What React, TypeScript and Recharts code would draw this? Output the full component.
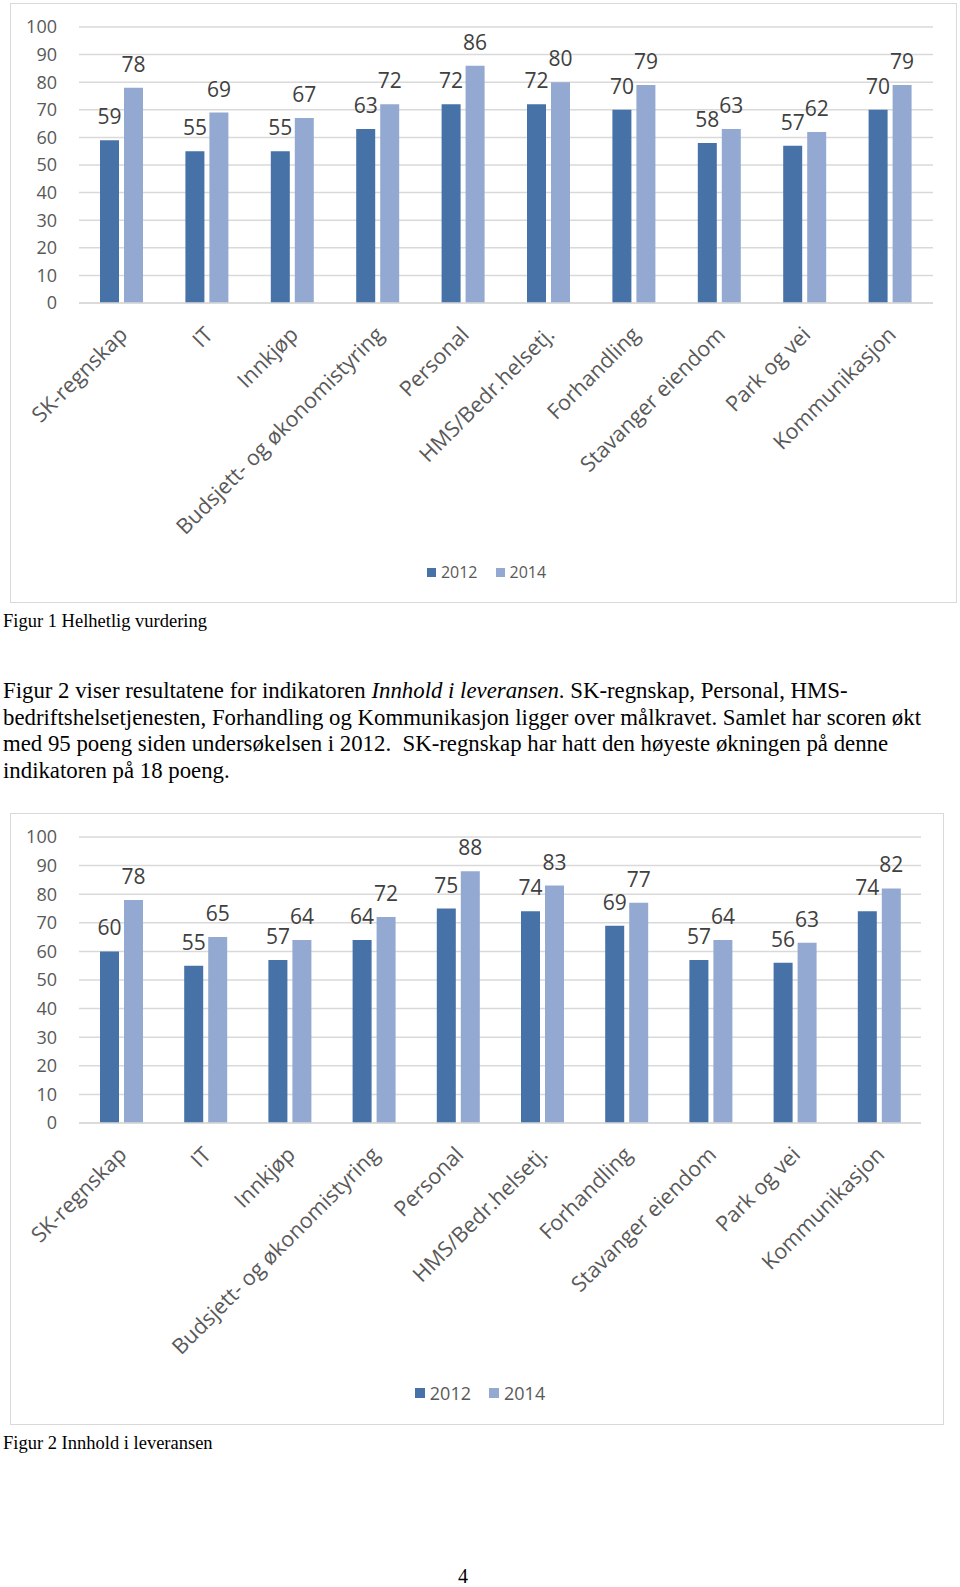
import { Bar, BarChart, CartesianGrid, LabelList, Legend, XAxis, YAxis } from "recharts"

const categories = [
  "SK-regnskap",
  "IT",
  "Innkjøp",
  "Budsjett- og økonomistyring",
  "Personal",
  "HMS/Bedr.helsetj.",
  "Forhandling",
  "Stavanger eiendom",
  "Park og vei",
  "Kommunikasjon",
]

// Figur 1 Helhetlig vurdering
const helhetlig2012 = [59, 55, 55, 63, 72, 72, 70, 58, 57, 70]
const helhetlig2014 = [78, 69, 67, 72, 86, 80, 79, 63, 62, 79]

// Figur 2 Innhold i leveransen
const innhold2012 = [60, 55, 57, 64, 75, 74, 69, 57, 56, 74]
const innhold2014 = [78, 65, 64, 72, 88, 83, 77, 64, 63, 82]

const yTicks = [0, 10, 20, 30, 40, 50, 60, 70, 80, 90, 100]
const seriesNames = ["2012", "2014"]

const FONT = "'Open Sans', sans-serif"
const SERIF = "'Liberation Serif', 'Times New Roman', serif"
const C2012 = "#4672A7"
const C2014 = "#94A9D1"
const GRID = "#D9D9D9"

const buildData = (a: number[], b: number[]) =>
  categories.map((name, i) => ({ name, v2012: a[i], v2014: b[i] }))

function CategoryTick(props: any) {
  const { x, y, payload, offX, offY } = props
  return (
    <text
      x={0}
      y={0}
      transform={`translate(${x + offX},${y + offY}) rotate(-45)`}
      textAnchor="end"
      fontSize={21.5}
      fontFamily={FONT}
      fill="#595959"
    >
      {payload.value}
    </text>
  )
}

function legendContent(fontSize: number, box: number) {
  return () => (
    <div
      style={{
        display: "flex",
        justifyContent: "center",
        alignItems: "center",
        height: 20,
        gap: 18,
        fontFamily: FONT,
        fontSize,
        color: "#595959",
      }}
    >
      {seriesNames.map((s, i) => (
        <div key={s} style={{ display: "flex", alignItems: "center", gap: 5 }}>
          <span style={{ width: box, height: box, background: i === 0 ? C2012 : C2014, display: "inline-block" }} />
          <span>{s}</span>
        </div>
      ))}
    </div>
  )
}

type ChartProps = {
  data: { name: string; v2012: number; v2014: number }[]
  height: number
  margin: { top: number; right: number; left: number; bottom: number }
  xAxisHeight: number
  tickOffY: number
  legendFont: number
  legendBox: number
  legendWidth: number
}

function ScoreChart({ data, height, margin, xAxisHeight, tickOffY, legendFont, legendBox, legendWidth }: ChartProps) {
  return (
    <BarChart width={960} height={height} data={data} margin={margin} barSize={19} barGap={5}>
      <CartesianGrid vertical={false} stroke={GRID} strokeWidth={1.5} />
      <XAxis
        dataKey="name"
        interval={0}
        height={xAxisHeight}
        tickLine={false}
        tickSize={0}
        tickMargin={0}
        axisLine={{ stroke: GRID, strokeWidth: 1.5 }}
        tick={(p: any) => <CategoryTick {...p} offX={7} offY={tickOffY} />}
      />
      <YAxis
        width={79}
        domain={[0, 100]}
        ticks={yTicks}
        interval={0}
        axisLine={false}
        tickLine={false}
        tickSize={0}
        tickMargin={22}
        tick={{ fontSize: 18, fontFamily: FONT, fill: "#595959" }}
      />
      <Legend
        verticalAlign="bottom"
        content={legendContent(legendFont, legendBox)}
        wrapperStyle={{ left: 0, width: legendWidth, bottom: margin.bottom }}
      />
      <Bar dataKey="v2012" name="2012" fill={C2012} isAnimationActive={false}>
        <LabelList dataKey="v2012" position="top" offset={16} fontSize={21} fontFamily={FONT} fill="#404040" />
      </Bar>
      <Bar dataKey="v2014" name="2014" fill={C2014} isAnimationActive={false}>
        <LabelList dataKey="v2014" position="top" offset={16} fontSize={21} fontFamily={FONT} fill="#404040" />
      </Bar>
    </BarChart>
  )
}

const abs = (left: number, top: number): React.CSSProperties => ({ position: "absolute", left, top })

export default function App() {
  return (
    <div style={{ position: "absolute", left: 0, top: 0, width: 960, height: 1587, background: "#fff" }}>
      {/* Figur 1 */}
      <div style={{ ...abs(10, 3), width: 945, height: 598, border: `1px solid ${GRID}` }} />
      <div style={abs(0, 0)}>
        <ScoreChart
          data={buildData(helhetlig2012, helhetlig2014)}
          height={610}
          margin={{ top: 27, right: 27, left: 0, bottom: 28 }}
          xAxisHeight={259}
          tickOffY={33}
          legendFont={16}
          legendBox={9}
          legendWidth={973}
        />
      </div>
      <div style={{ ...abs(3, 609), fontFamily: SERIF, fontSize: 18.5, lineHeight: "24px" }}>Figur 1 Helhetlig vurdering</div>

      <div style={{ ...abs(3, 678), fontFamily: SERIF, fontSize: 22.8, lineHeight: "26.7px", whiteSpace: "pre" }}>
        Figur 2 viser resultatene for indikatoren <i>Innhold i leveransen</i>. SK-regnskap, Personal, HMS-
        <br />
        bedriftshelsetjenesten, Forhandling og Kommunikasjon ligger over målkravet. Samlet har scoren økt
        <br />
        med 95 poeng siden undersøkelsen i 2012.  SK-regnskap har hatt den høyeste økningen på denne
        <br />
        indikatoren på 18 poeng.
      </div>

      {/* Figur 2 */}
      <div style={{ ...abs(10, 813), width: 932, height: 610, border: `1px solid ${GRID}` }} />
      <div style={abs(0, 800)}>
        <ScoreChart
          data={buildData(innhold2012, innhold2014)}
          height={640}
          margin={{ top: 37, right: 39, left: 0, bottom: 37 }}
          xAxisHeight={260}
          tickOffY={33}
          legendFont={18}
          legendBox={10}
          legendWidth={960}
        />
      </div>
      <div style={{ ...abs(3, 1431), fontFamily: SERIF, fontSize: 18.5, lineHeight: "24px" }}>Figur 2 Innhold i leveransen</div>

      <div style={{ ...abs(0, 1565), width: 926, textAlign: "center", fontFamily: SERIF, fontSize: 20 }}>4</div>
    </div>
  )
}
